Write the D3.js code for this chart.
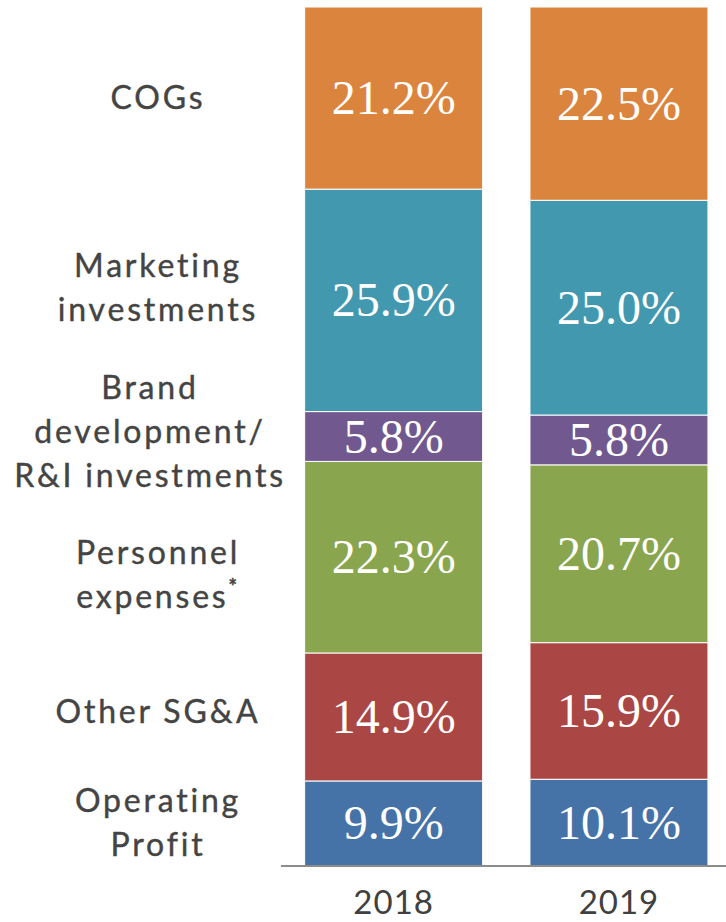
<!DOCTYPE html>
<html>
<head>
<meta charset="utf-8">
<script src="https://cdn.jsdelivr.net/npm/d3@7"></script>
<style>
  html, body { margin: 0; padding: 0; background: #fff; }
  svg { display: block; }
</style>
</head>
<body>
<svg id="chart" width="726" height="922"></svg>
<script>
'use strict'

// years on the x axis
const years = ['2018', '2019']

// stack order, bottom to top
const seriesNames = ['Operating Profit', 'Other SG&A', 'Personnel expenses', 'Brand development', 'Marketing investments', 'COGs']

// share of net sales, in %, same order as seriesNames
const values2018 = [9.9, 14.9, 22.3, 5.8, 25.9, 21.2]
const values2019 = [10.1, 15.9, 20.7, 5.8, 25.0, 22.5]

// left hand labels, one line per entry
const labelLines = {
  'Operating Profit': ['Operating', 'Profit'],
  'Other SG&A': ['Other SG&A'],
  'Personnel expenses': ['Personnel', 'expenses'],
  'Brand development': ['Brand', 'development/', 'R&I investments'],
  'Marketing investments': ['Marketing', 'investments'],
  'COGs': ['COGs']
}

const colors = ['#4572A7', '#AA4643', '#89A54E', '#71588F', '#4298AF', '#DB843D']

const svg = d3.select('#chart')

const rows = years.map((year, i) => {
  const vals = i === 0 ? values2018 : values2019
  const row = { year }
  seriesNames.forEach((name, j) => { row[name] = vals[j] })
  return row
})

const stacked = d3.stack().keys(seriesNames)(rows)

const x = d3.scaleBand()
  .domain(years)
  .range([281, 731.6])
  .paddingInner(0.21)
  .paddingOuter(0.105)

const y = d3.scaleLinear()
  .domain([0, 100])
  .range([866, 7])

const color = d3.scaleOrdinal().domain(seriesNames).range(colors)

// bars
const layers = svg.append('g')
  .selectAll('g')
  .data(stacked)
  .join('g')
  .attr('fill', d => color(d.key))

layers.selectAll('rect')
  .data(d => d)
  .join('rect')
  .attr('x', d => x(d.data.year))
  .attr('width', x.bandwidth())
  .attr('y', d => y(d[1]))
  .attr('height', d => y(d[0]) - y(d[1]))
  .attr('stroke', '#fff')
  .attr('stroke-width', 1)

// values inside the segments
layers.selectAll('text')
  .data(d => d)
  .join('text')
  .attr('x', d => x(d.data.year) + x.bandwidth() / 2)
  .attr('y', d => (y(d[0]) + y(d[1])) / 2 + 16)
  .attr('text-anchor', 'middle')
  .attr('fill', '#fff')
  .style('font-family', '"Liberation Serif", serif')
  .style('font-size', '48px')
  .text(d => (d[1] - d[0]).toFixed(1) + '%')

// baseline
svg.append('line')
  .attr('x1', 281)
  .attr('x2', 726)
  .attr('y1', y(0))
  .attr('y2', y(0))
  .attr('stroke', '#8c8c8c')
  .attr('stroke-width', 2)

// year labels
const xAxis = svg.append('g')
  .attr('transform', `translate(0,${y(0)})`)
  .call(d3.axisBottom(x).tickSize(0).tickPadding(0))

xAxis.select('.domain').remove()
xAxis.selectAll('text')
  .attr('y', 48)
  .attr('dy', null)
  .attr('fill', '#404040')
  .style('font-family', 'Lato, sans-serif')
  .style('font-size', '33px')
  .style('letter-spacing', '1px')

// category labels on the left, placed against the 2018 bar
// a few are nudged to sit where the original layout put them
const nudge = { 'Personnel expenses': 18, 'Marketing investments': -12, 'Other SG&A': -5, 'Brand development': -5 }
const lineGap = 44

const labels = svg.append('g')
  .selectAll('text')
  .data(stacked.map(s => ({ key: s.key, seg: s[0] })))
  .join('text')
  .attr('text-anchor', 'middle')
  .attr('fill', '#444')
  .attr('stroke', '#444')
  .attr('stroke-width', 0.4)
  .style('font-family', 'Lato, sans-serif')
  .style('font-size', '32px')
  .style('letter-spacing', '2.8px')
  .each((d, i, nodes) => {
    const lines = labelLines[d.key]
    const mid = (y(d.seg[0]) + y(d.seg[1])) / 2 + (nudge[d.key] || 0)
    const cx = d.key === 'Brand development' ? 150 : 158
    const top = mid - (lines.length - 1) * lineGap / 2 + 11
    const t = d3.select(nodes[i])
    lines.forEach((line, k) => {
      t.append('tspan')
        .attr('x', cx)
        .attr('y', top + k * lineGap)
        .text(line)
    })
    if (d.key === 'Personnel expenses') {
      t.append('tspan')
        .attr('dy', -14)
        .style('font-size', '20px')
        .style('font-weight', 'bold')
        .text('*')
    }
  })
</script>
</body>
</html>
